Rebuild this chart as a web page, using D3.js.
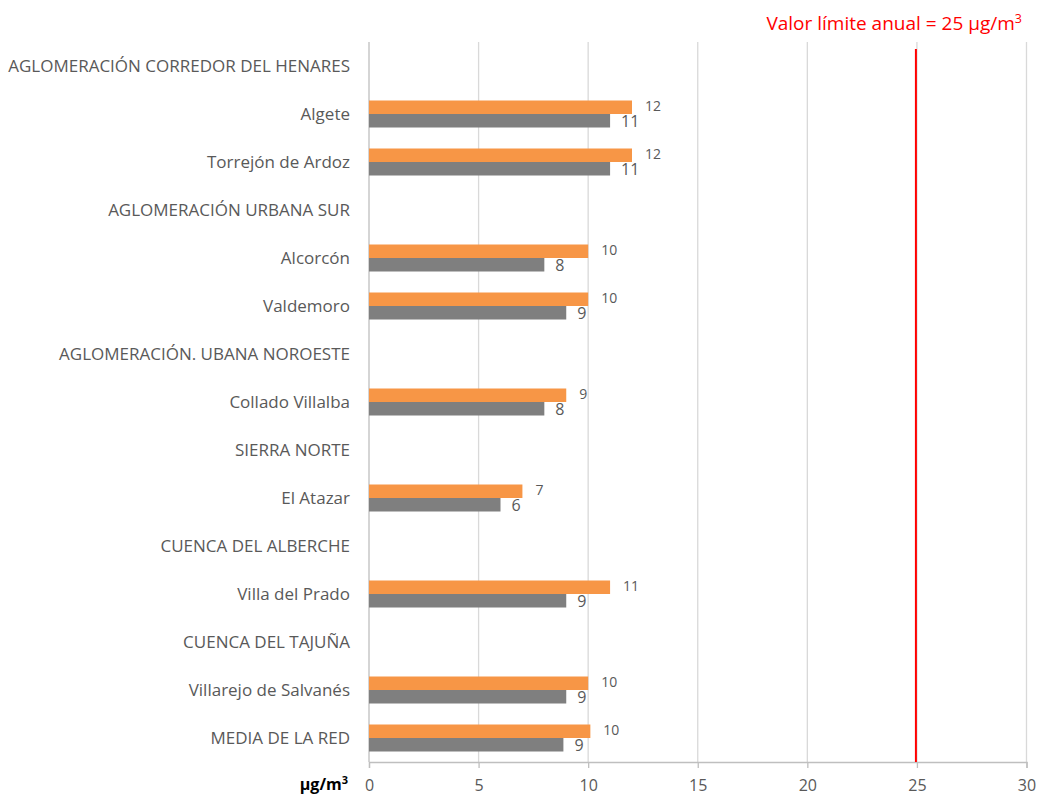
<!DOCTYPE html>
<html><head><meta charset="utf-8">
<script src="https://cdn.jsdelivr.net/npm/d3@7"></script>
<style>body{margin:0;background:#fff;} text{font-family:"Open Sans",Lato,sans-serif;}</style>
</head><body>
<svg id="c" width="1039" height="795"></svg>
<script>
const categories = ["AGLOMERACIÓN CORREDOR DEL HENARES","Algete","Torrejón de Ardoz","AGLOMERACIÓN URBANA SUR","Alcorcón","Valdemoro","AGLOMERACIÓN. UBANA NOROESTE","Collado Villalba","SIERRA NORTE","El Atazar","CUENCA DEL ALBERCHE","Villa del Prado","CUENCA DEL TAJUÑA","Villarejo de Salvanés","MEDIA DE LA RED"];
const seriesOrange = [null,12,12,null,10,10,null,9,null,7,null,11,null,10,10.1];
const seriesGray   = [null,11,11,null,8,9,null,8,null,6,null,9,null,9,8.87];
const xTicks = [0,5,10,15,20,25,30];
const limitValue = 25;

const svg = d3.select("#c");
const x = d3.scaleLinear().domain([0,30]).range([369,1026.5]);
const y = d3.scaleBand().domain(categories).range([42,762]).paddingInner(0).paddingOuter(0);
const ys = d3.scaleBand().domain(["o","g"]).range([0,y.bandwidth()]).paddingInner(0).paddingOuter(0.778);

// gridlines
svg.append("g").selectAll("line").data(xTicks).join("line")
  .attr("x1",d=>x(d)).attr("x2",d=>x(d)).attr("y1",42).attr("y2",762)
  .attr("stroke",d=>d===0?"#BFBFBF":"#D9D9D9").attr("stroke-width",1.3);

// x axis
const xa = svg.append("g").attr("transform","translate(0,762)")
  .call(d3.axisBottom(x).tickValues(xTicks).tickSize(6).tickPadding(0));
xa.select(".domain").attr("stroke","#BFBFBF").attr("stroke-width",1.3);
xa.selectAll(".tick line").attr("stroke","#BFBFBF").attr("stroke-width",1.3);
xa.selectAll(".tick text").attr("y",29).attr("dy",null).attr("fill","#595959")
  .style("font-size","16px").style("font-family","'Open Sans',Lato,sans-serif");

// category labels
svg.append("g").selectAll("text").data(categories).join("text")
  .attr("x",350).attr("y",d=>y(d)+y.bandwidth()/2).attr("dy","0.35em")
  .attr("text-anchor","end").attr("fill","#595959").style("font-size","17px").text(d=>d);

const rows = categories.map((c,i)=>({c,o:seriesOrange[i],g:seriesGray[i]}));

// bars
svg.append("g").selectAll("rect").data(rows.filter(r=>r.o!=null)).join("rect")
  .attr("x",x(0)).attr("y",d=>y(d.c)+ys("o")).attr("height",ys.bandwidth())
  .attr("width",d=>x(d.o)-x(0)).attr("fill","#F79646");
svg.append("g").selectAll("rect").data(rows.filter(r=>r.g!=null)).join("rect")
  .attr("x",x(0)).attr("y",d=>y(d.c)+ys("g")).attr("height",ys.bandwidth())
  .attr("width",d=>x(d.g)-x(0)).attr("fill","#7F7F7F");

// labels
svg.append("g").selectAll("text").data(rows.filter(r=>r.o!=null)).join("text")
  .attr("x",d=>x(d.o)+13).attr("y",d=>y(d.c)+ys("o")+ys.bandwidth()/2).attr("dy","0.3em")
  .attr("fill","#595959").style("font-size","14px").text(d=>Math.round(d.o));
svg.append("g").selectAll("text").data(rows.filter(r=>r.g!=null)).join("text")
  .attr("x",d=>x(d.g)+11).attr("y",d=>y(d.c)+ys("g")+ys.bandwidth()/2+1).attr("dy","0.35em")
  .attr("fill","#595959").style("font-size","16px").text(d=>Math.round(d.g));

// limit line
svg.append("line").attr("x1",x(limitValue)-1).attr("x2",x(limitValue)-1).attr("y1",49).attr("y2",762)
  .attr("stroke","#FF0000").attr("stroke-width",2);

// title
const t = svg.append("text").attr("x",1022).attr("y",30).attr("text-anchor","end")
  .attr("fill","#FF0000").style("font-size","19px");
t.append("tspan").text("Valor límite anual = 25 µg/m");
t.append("tspan").attr("dy","-7").style("font-size","12.5px").text("3");

// unit
const u = svg.append("text").attr("x",348).attr("y",790).attr("text-anchor","end")
  .attr("fill","#000").style("font-size","16px").style("font-weight","bold");
u.append("tspan").text("µg/m");
u.append("tspan").attr("dy","-6").style("font-size","11px").text("3");
</script>
</body></html>
